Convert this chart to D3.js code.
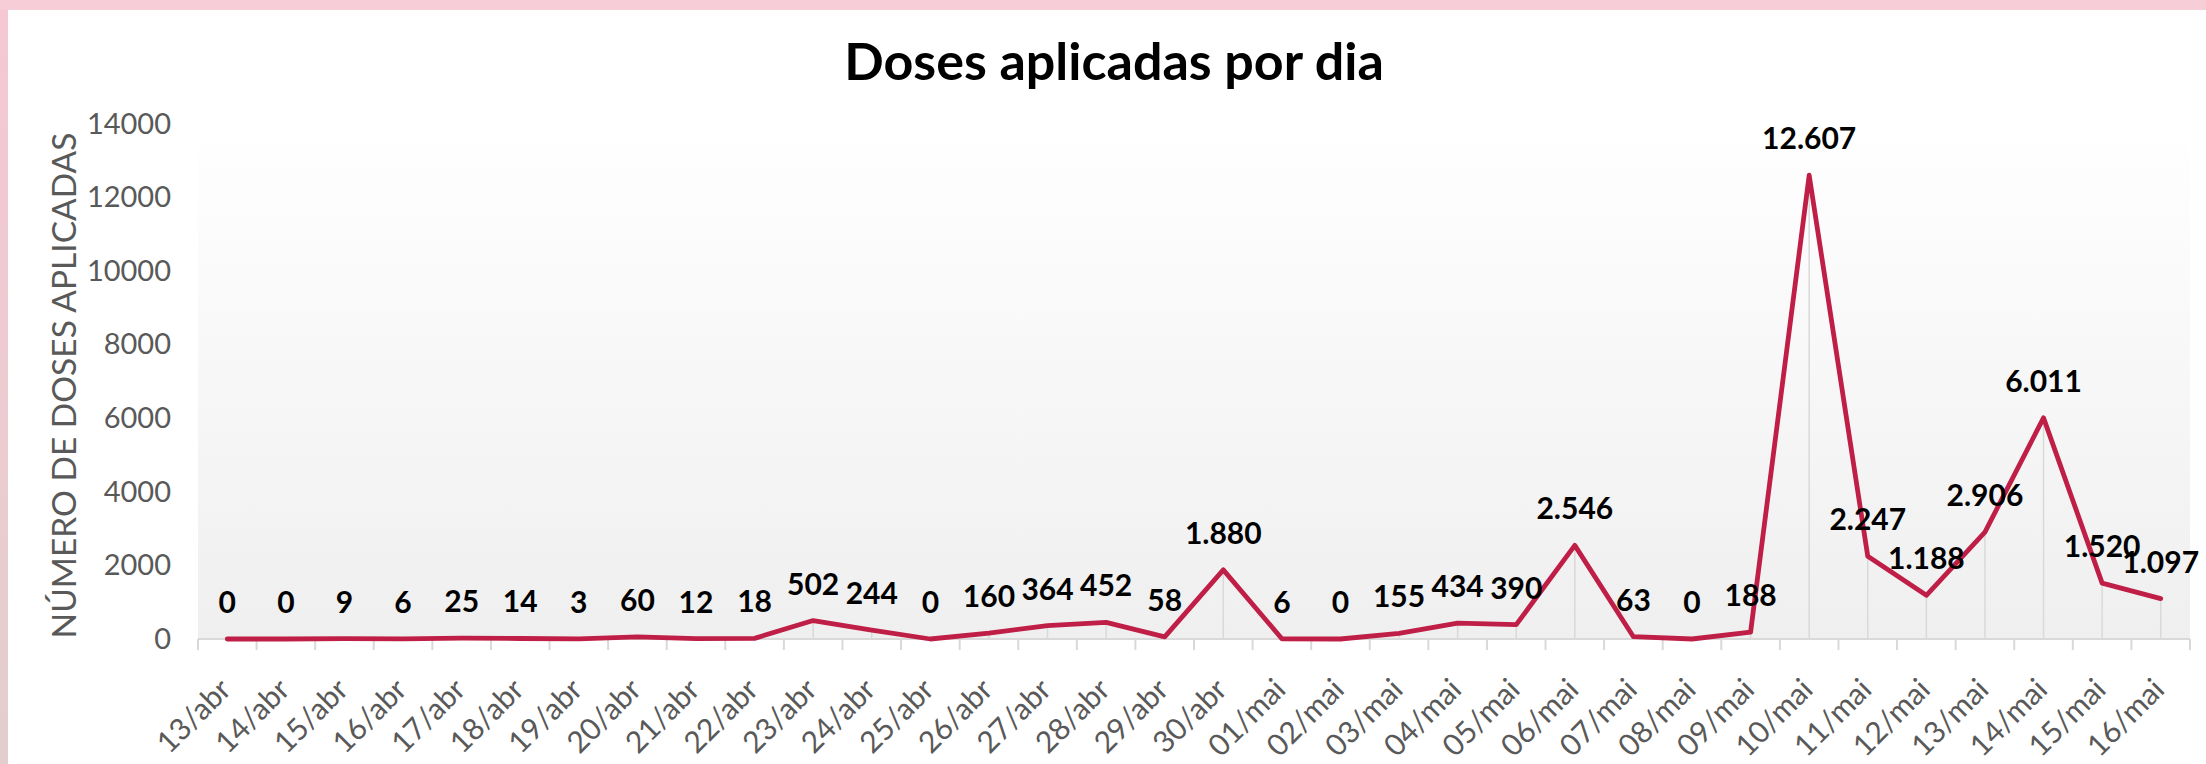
<!DOCTYPE html>
<html>
<head>
<meta charset="utf-8">
<script src="https://cdn.jsdelivr.net/npm/d3@7"></script>
<style>
    html, body { margin: 0; padding: 0; background: white; }
    svg { display: block; }
</style>
</head>
<body>
<svg width="2206" height="764"></svg>
<script>
const WIDTH = 2206
const HEIGHT = 764
const PLOT_LEFT = 198
const PLOT_RIGHT = 2190
const PLOT_TOP = 124
const PLOT_BOTTOM = 639
const LINE_COLOR = "#bf1e46"
const GRID_COLOR = "#d9d9d9"
const FONT = "Lato, 'Open Sans', sans-serif"

const days = [
    "13/abr", "14/abr", "15/abr", "16/abr", "17/abr", "18/abr", "19/abr", "20/abr",
    "21/abr", "22/abr", "23/abr", "24/abr", "25/abr", "26/abr", "27/abr", "28/abr",
    "29/abr", "30/abr", "01/mai", "02/mai", "03/mai", "04/mai", "05/mai", "06/mai",
    "07/mai", "08/mai", "09/mai", "10/mai", "11/mai", "12/mai", "13/mai", "14/mai",
    "15/mai", "16/mai"
]
const doses = [
    0, 0, 9, 6, 25, 14, 3, 60, 12, 18, 502, 244, 0, 160, 364, 452, 58, 1880,
    6, 0, 155, 434, 390, 2546, 63, 0, 188, 12607, 2247, 1188, 2906, 6011, 1520, 1097
]
const yTicks = [0, 2000, 4000, 6000, 8000, 10000, 12000, 14000]

const data = days.map((d, i) => ({ day: d, value: doses[i] }))

const svg = d3.select("svg")
const defs = svg.append("defs")

// pink frame on top and left
let sideGrad = defs.append("linearGradient")
    .attr("id", "side")
    .attr("x1", 0).attr("y1", 0).attr("x2", 0).attr("y2", 1)
sideGrad.append("stop").attr("offset", "0%").attr("stop-color", "#f6c8d4")
sideGrad.append("stop").attr("offset", "100%").attr("stop-color", "#e2cece")

let plotGrad = defs.append("linearGradient")
    .attr("id", "plotbg")
    .attr("x1", 0).attr("y1", 0).attr("x2", 0).attr("y2", 1)
plotGrad.append("stop").attr("offset", "0%").attr("stop-color", "#ffffff")
plotGrad.append("stop").attr("offset", "100%").attr("stop-color", "#efefef")

svg.append("rect")
    .attr("width", WIDTH).attr("height", HEIGHT)
    .attr("fill", "white")
svg.append("rect")
    .attr("x", 0).attr("y", 0)
    .attr("width", 8).attr("height", HEIGHT)
    .attr("fill", "url(#side)")
svg.append("rect")
    .attr("x", 0).attr("y", 0)
    .attr("width", WIDTH).attr("height", 10)
    .attr("fill", "#f7ced8")

const x = d3.scaleBand()
    .domain(days)
    .range([PLOT_LEFT, PLOT_RIGHT])
const y = d3.scaleLinear()
    .domain([0, 14000])
    .range([PLOT_BOTTOM, PLOT_TOP])
const cx = d => x(d) + x.bandwidth() / 2

svg.append("rect")
    .attr("x", PLOT_LEFT).attr("y", PLOT_TOP)
    .attr("width", PLOT_RIGHT - PLOT_LEFT)
    .attr("height", PLOT_BOTTOM - PLOT_TOP)
    .attr("fill", "url(#plotbg)")

// title
svg.append("text")
    .attr("x", 1114).attr("y", 80)
    .attr("text-anchor", "middle")
    .attr("font-family", FONT)
    .attr("font-weight", "bold")
    .attr("font-size", 52)
    .attr("fill", "#000")
    .text("Doses aplicadas por dia")

// y axis (no line, labels only)
const yAxis = svg.append("g")
    .attr("transform", "translate(" + PLOT_LEFT + ",0)")
    .call(d3.axisLeft(y).tickValues(yTicks).tickSize(0).tickPadding(27).tickFormat(d3.format("d")))
yAxis.select(".domain").remove()
yAxis.selectAll("text")
    .attr("font-family", FONT)
    .attr("font-size", 29)
    .attr("fill", "#595959")

svg.append("text")
    .attr("transform", "translate(63," + ((PLOT_TOP + PLOT_BOTTOM) / 2 + 4) + ") rotate(-90)")
    .attr("text-anchor", "middle")
    .attr("dominant-baseline", "central")
    .attr("font-family", FONT)
    .attr("font-size", 33.5)
    .attr("fill", "#595959")
    .text("NÚMERO DE DOSES APLICADAS")

// drop lines from each point to the axis
svg.append("g")
    .selectAll("line")
    .data(data)
    .join("line")
    .attr("x1", d => cx(d.day)).attr("x2", d => cx(d.day))
    .attr("y1", d => y(d.value)).attr("y2", PLOT_BOTTOM)
    .attr("stroke", GRID_COLOR)
    .attr("stroke-width", 1.5)

// x axis line and ticks at category edges
svg.append("line")
    .attr("x1", PLOT_LEFT).attr("x2", PLOT_RIGHT)
    .attr("y1", PLOT_BOTTOM).attr("y2", PLOT_BOTTOM)
    .attr("stroke", GRID_COLOR)
    .attr("stroke-width", 2)
svg.append("g")
    .selectAll("line")
    .data(days.concat(["end"]))
    .join("line")
    .attr("x1", (d, i) => PLOT_LEFT + i * x.step())
    .attr("x2", (d, i) => PLOT_LEFT + i * x.step())
    .attr("y1", PLOT_BOTTOM).attr("y2", PLOT_BOTTOM + 11)
    .attr("stroke", GRID_COLOR)
    .attr("stroke-width", 2)

svg.append("g")
    .selectAll("text")
    .data(days)
    .join("text")
    .attr("transform", d => "translate(" + (cx(d) - 3) + "," + (PLOT_BOTTOM + 44) + ") rotate(-45)")
    .attr("text-anchor", "end")
    .attr("dominant-baseline", "central")
    .attr("font-family", FONT)
    .attr("font-size", 30)
    .attr("fill", "#595959")
    .text(d => d)

// the line
const line = d3.line()
    .x(d => cx(d.day))
    .y(d => y(d.value))
svg.append("path")
    .datum(data)
    .attr("d", line)
    .attr("fill", "none")
    .attr("stroke", LINE_COLOR)
    .attr("stroke-width", 4.8)
    .attr("stroke-linejoin", "round")
    .attr("stroke-linecap", "round")

// value labels, pt-BR thousands separator
const fmt = d3.formatLocale({ decimal: ",", thousands: ".", grouping: [3], currency: ["R$", ""] }).format(",d")
svg.append("g")
    .selectAll("text")
    .data(data)
    .join("text")
    .attr("x", d => cx(d.day))
    .attr("y", d => y(d.value) - 26)
    .attr("text-anchor", "middle")
    .attr("font-family", FONT)
    .attr("font-weight", "bold")
    .attr("font-size", 30)
    .attr("fill", "#000")
    .text(d => fmt(d.value))
</script>
</body>
</html>
